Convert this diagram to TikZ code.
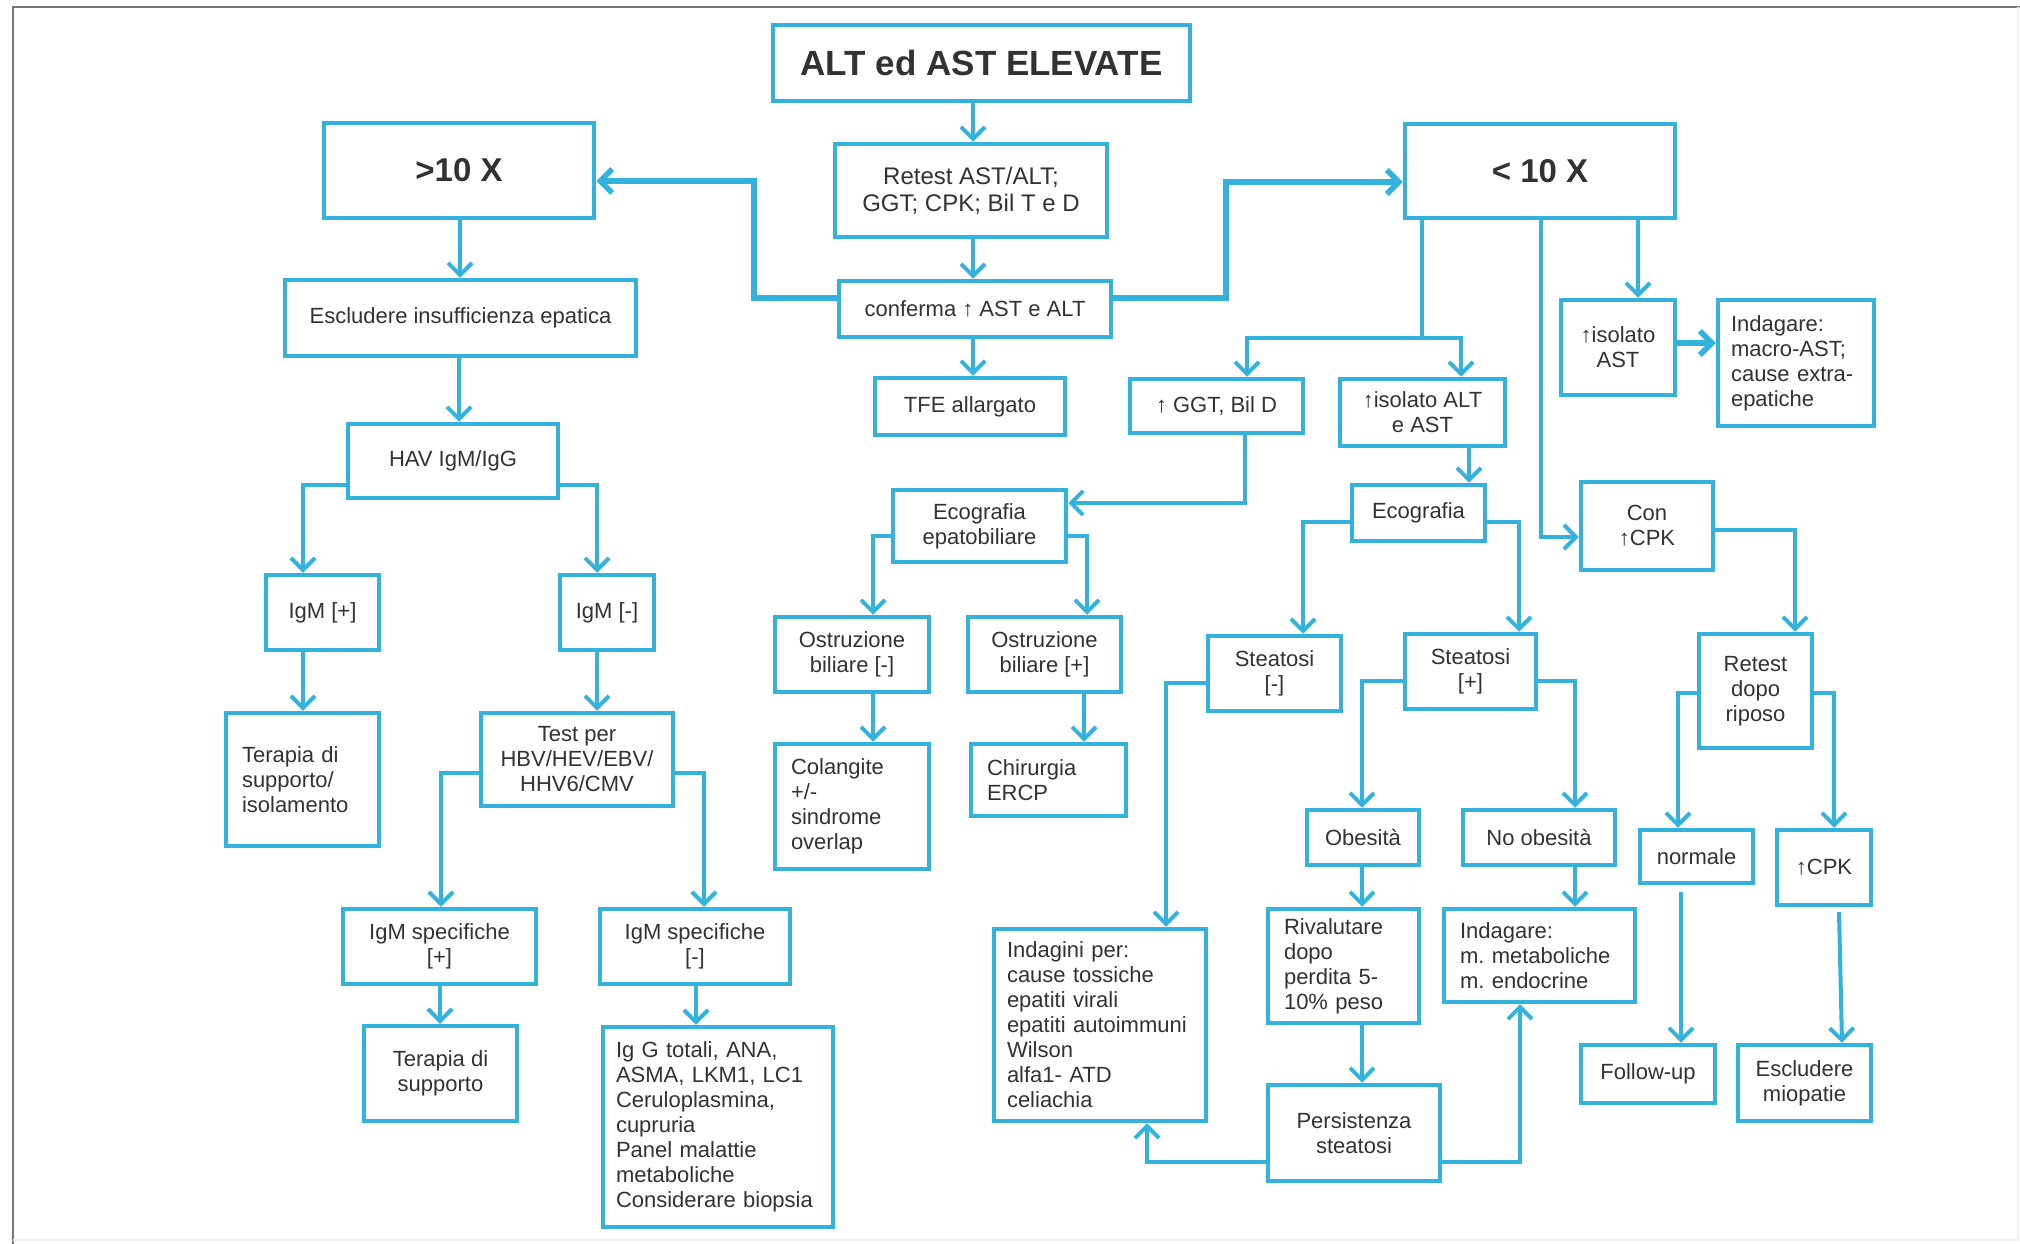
\documentclass[tikz,border=0pt]{standalone}
\usepackage{fontspec}
\setmainfont{Liberation Sans}
\usetikzlibrary{arrows.meta}
\definecolor{cb}{RGB}{52,178,222}
\definecolor{txt}{RGB}{50,50,50}
\definecolor{frm}{RGB}{120,120,120}
\newcommand\nfs{\fontsize{22pt}{25pt}\selectfont}
\newcommand\rfs{\fontsize{24pt}{27pt}\selectfont}
\newcommand\tfs{\fontsize{35pt}{40pt}\selectfont\bfseries}
\newcommand\bfs{\fontsize{33pt}{38pt}\selectfont\bfseries}
\frenchspacing
\tikzset{
  box/.style={draw=cb, line width=4.5pt, fill=white, text=txt, align=center, inner sep=0pt, font=\nfs},
  lbox/.style={box, align=left},
  conn/.style={draw=cb, line width=4pt, -{Straight Barb[length=12pt,width=24pt]}},
  thickconn/.style={conn, line width=5.5pt},
  seg/.style={draw=cb, line width=4pt}
}
\begin{document}
\begin{tikzpicture}[x=1pt,y=-1pt]
\fill[white] (0,0) rectangle (2020,1244);
\useasboundingbox (0,0) rectangle (2020,1244);
% frame
\draw[frm, line width=2.5pt] (13,1244) -- (13,7) -- (2020,7);
\draw[black!6, line width=2pt] (2018,7) -- (2018,1240) -- (13,1240);

% nodes
\node[box, minimum width=417pt, minimum height=76pt, font=\tfs] (title) at (981.5,63) {ALT ed AST ELEVATE};
\node[box, minimum width=270pt, minimum height=95pt, font=\bfs] (gt10) at (459,170.5) {>10 X};
\node[box, minimum width=272pt, minimum height=93pt, font=\rfs] (retest) at (971,190.5) {Retest AST/ALT;\\GGT; CPK; Bil T e D};
\node[box, minimum width=272pt, minimum height=56pt] (conf) at (975,309) {conferma ↑ AST e ALT};
\node[box, minimum width=190pt, minimum height=57pt] (tfe) at (970,406.5) {TFE allargato};
\node[box, minimum width=270pt, minimum height=94pt, font=\bfs] (lt10) at (1540,171) {< 10 X};
\node[box, minimum width=351pt, minimum height=76pt] (escl) at (460.5,318) {Escludere insufficienza epatica};
\node[box, minimum width=210pt, minimum height=74pt] (hav) at (453,461) {HAV IgM/IgG};
\node[box, minimum width=113pt, minimum height=75pt] (igmp) at (322.5,612.5) {IgM [+]};
\node[box, minimum width=94pt, minimum height=75pt] (igmn) at (607,612.5) {IgM [-]};
\node[lbox, minimum width=153pt, minimum height=133pt, text width=121pt] (ter1) at (302.5,779.5) {Terapia di\\supporto/\\isolamento};
\node[box, minimum width=192pt, minimum height=93pt] (testper) at (577,759.5) {Test per\\HBV/HEV/EBV/\\HHV6/CMV};
\node[box, minimum width=193pt, minimum height=75pt] (igsp) at (439.5,946.5) {IgM specifiche\\{}[+]};
\node[box, minimum width=190pt, minimum height=75pt] (igsn) at (695,946.5) {IgM specifiche\\{}[-]};
\node[box, minimum width=153pt, minimum height=95pt] (ter2) at (440.5,1073.5) {Terapia di\\supporto};
\node[lbox, minimum width=230pt, minimum height=200pt, text width=204pt] (igg) at (718,1127) {Ig G totali, ANA,\\ASMA, LKM1, LC1\\Ceruloplasmina,\\cupruria\\Panel malattie\\metaboliche\\Considerare biopsia};
\node[box, minimum width=173pt, minimum height=72pt] (ecoepa) at (979.5,526) {Ecografia\\epatobiliare};
\node[box, minimum width=154pt, minimum height=75pt] (ostn) at (852,654.5) {Ostruzione\\biliare [-]};
\node[box, minimum width=153pt, minimum height=75pt] (ostp) at (1044.5,654.5) {Ostruzione\\biliare [+]};
\node[lbox, minimum width=154pt, minimum height=125pt, text width=122pt] (colang) at (852,806.5) {Colangite\\+/-\\sindrome\\overlap};
\node[lbox, minimum width=155pt, minimum height=72pt, text width=123pt] (chir) at (1048.5,780) {Chirurgia\\ERCP};
\node[box, minimum width=173pt, minimum height=54pt] (ggt) at (1216.5,406) {↑ GGT, Bil D};
\node[box, minimum width=165pt, minimum height=67pt] (isoalt) at (1422.5,412.5) {↑isolato ALT\\e AST};
\node[box, minimum width=114pt, minimum height=95pt] (isoast) at (1618,347.5) {↑isolato\\AST};
\node[lbox, minimum width=156pt, minimum height=126pt, text width=130pt] (indmacro) at (1796,363) {Indagare:\\macro-AST;\\cause extra-\\epatiche};
\node[box, minimum width=133pt, minimum height=56pt] (eco) at (1418.5,513) {Ecografia};
\node[box, minimum width=132pt, minimum height=88pt] (concpk) at (1647,526) {Con\\↑CPK};
\node[box, minimum width=133pt, minimum height=75pt] (stn) at (1274.5,673.5) {Steatosi\\{}[-]};
\node[box, minimum width=131pt, minimum height=75pt] (stp) at (1470.5,671.5) {Steatosi\\{}[+]};
\node[box, minimum width=113pt, minimum height=114pt] (retrip) at (1755.5,691) {Retest\\dopo\\riposo};
\node[box, minimum width=112pt, minimum height=55pt] (obes) at (1363,837.5) {Obesità};
\node[box, minimum width=152pt, minimum height=55pt] (noobes) at (1539,837.5) {No obesità};
\node[box, minimum width=113pt, minimum height=53pt] (normale) at (1696.5,856.5) {normale};
\node[box, minimum width=94pt, minimum height=75pt] (cpk) at (1824,867.5) {↑CPK};
\node[lbox, minimum width=212pt, minimum height=192pt, text width=186pt] (indagini) at (1100,1025) {Indagini per:\\cause tossiche\\epatiti virali\\epatiti autoimmuni\\Wilson\\alfa1- ATD\\celiachia};
\node[lbox, minimum width=151pt, minimum height=114pt, text width=119pt] (rival) at (1343.5,966) {Rivalutare\\dopo\\perdita 5-\\10\% peso};
\node[lbox, minimum width=191pt, minimum height=93pt, text width=159pt] (indmet) at (1539.5,955.5) {Indagare:\\m. metaboliche\\m. endocrine};
\node[box, minimum width=172pt, minimum height=96pt] (persist) at (1354,1133) {Persistenza\\steatosi};
\node[box, minimum width=134pt, minimum height=58pt] (follow) at (1648,1074) {Follow-up};
\node[box, minimum width=133pt, minimum height=76pt] (esclmio) at (1804.5,1083) {Escludere\\miopatie};

% connectors
\draw[conn] (title.south -| 973,0) -- (retest.north -| 973,0);
\draw[conn] (retest.south -| 973,0) -- (conf.north -| 973,0);
\draw[conn] (conf.south -| 973,0) -- (tfe.north -| 973,0);
\draw[thickconn] (conf.west |- 0,298) -| (754,240) |- (gt10.east |- 0,181);
\draw[thickconn] (conf.east |- 0,298) -| (1226,240) |- (lt10.west |- 0,182);
\draw[conn] (gt10.south -| 460,0) -- (escl.north -| 460,0);
\draw[conn] (escl.south -| 459,0) -- (hav.north -| 459,0);
\draw[conn] (hav.west |- 0,485) -| (igmp.north -| 303,0);
\draw[conn] (hav.east |- 0,485) -| (igmn.north -| 597,0);
\draw[conn] (igmp.south -| 303,0) -- (ter1.north -| 303,0);
\draw[conn] (igmn.south -| 597,0) -- (testper.north -| 597,0);
\draw[conn] (testper.west |- 0,773) -| (igsp.north -| 441,0);
\draw[conn] (testper.east |- 0,773) -| (igsn.north -| 704,0);
\draw[conn] (igsp.south -| 440,0) -- (ter2.north -| 440,0);
\draw[conn] (igsn.south -| 696,0) -- (igg.north -| 696,0);

\coordinate (j1) at (1422,338);
\draw[seg] (lt10.south -| 1422,0) -- (j1);
\draw[conn] (j1) -| (ggt.north -| 1247,0);
\draw[conn] (j1) -| (isoalt.north -| 1461,0);
\draw[conn] (lt10.south -| 1541,0) |- (concpk.west |- 0,537);
\draw[conn] (lt10.south -| 1638,0) -- (isoast.north -| 1638,0);
\draw[thickconn] (isoast.east |- 0,343) -- (indmacro.west |- 0,343);

\draw[conn] (ggt.south -| 1245,0) |- (ecoepa.east |- 0,503);
\draw[conn] (isoalt.south -| 1469,0) -- (eco.north -| 1469,0);
\draw[conn] (ecoepa.west |- 0,536) -| (ostn.north -| 873,0);
\draw[conn] (ecoepa.east |- 0,536) -| (ostp.north -| 1087,0);
\draw[conn] (ostn.south -| 873,0) -- (colang.north -| 873,0);
\draw[conn] (ostp.south -| 1084,0) -- (chir.north -| 1084,0);

\draw[conn] (eco.west |- 0,522) -| (stn.north -| 1303,0);
\draw[conn] (eco.east |- 0,522) -| (stp.north -| 1519,0);
\draw[conn] (stn.west |- 0,683) -| (indagini.north -| 1166,0);
\draw[conn] (stp.west |- 0,681) -| (obes.north -| 1362,0);
\draw[conn] (stp.east |- 0,681) -| (noobes.north -| 1575,0);
\draw[conn] (obes.south -| 1362,0) -- (rival.north -| 1362,0);
\draw[conn] (noobes.south -| 1575,0) -- (indmet.north -| 1575,0);
\draw[conn] (rival.south -| 1362,0) -- (persist.north -| 1362,0);
\draw[conn] (persist.west |- 0,1162) -| (indagini.south -| 1147,0);
\draw[conn] (persist.east |- 0,1162) -| (indmet.south -| 1520,0);

\draw[conn] (concpk.east |- 0,530) -| (retrip.north -| 1795,0);
\draw[conn] (retrip.west |- 0,693) -| (normale.north -| 1678,0);
\draw[conn] (retrip.east |- 0,693) -| (cpk.north -| 1834,0);
\coordinate (k1) at (1681,892);
\coordinate (k2) at (1839,912);
\draw[conn] (k1) -- (follow.north -| 1681,0);
\draw[conn] (k2) -- (esclmio.north -| 1842,0);
\end{tikzpicture}
\end{document}
